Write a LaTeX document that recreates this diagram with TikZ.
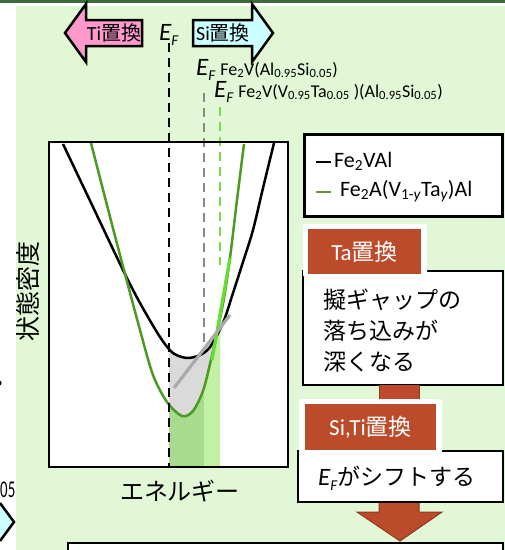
\documentclass[tikz,border=0pt]{standalone}
\usepackage{fontspec}
\setmainfont{Carlito}
\newfontfamily\jp{Noto Sans CJK JP}
\definecolor{bggreen}{HTML}{E1F7D5}
\definecolor{topbar}{HTML}{3E6A3E}
\definecolor{pinkf}{HTML}{FF99CC}
\definecolor{cyanf}{HTML}{CCFFFF}
\definecolor{brick}{HTML}{BB4B2B}
\definecolor{brickdk}{HTML}{8C3A20}
\definecolor{curvegreen}{HTML}{4C9A24}
\definecolor{legendgreen}{HTML}{6B8F4B}
\definecolor{brightgreen}{HTML}{66DD33}
\definecolor{dashgreen}{HTML}{77DD44}
\definecolor{fillgreenA}{HTML}{A9DB8E}
\definecolor{fillgreenB}{HTML}{C2F0A6}
\definecolor{fillgray}{HTML}{DADADA}
\definecolor{dashgray}{HTML}{8A8A8A}
\definecolor{tangray}{HTML}{AAAAAA}
\newcommand\fs[1]{\fontsize{#1}{#1}\selectfont}
\newcommand\myEF[2]{{\fs{#1}\itshape E}{\fs{#2}\raisebox{-0.35em}{\itshape F}}}
\newcommand\ssub[1]{\textsubscript{#1}}
\def\blackcurve{plot[smooth] coordinates {(63,144) (93,207) (123,270) (140,303) (160,337) (173,353) (187,358) (200,355) (210,347) (223,323) (233,293) (243,262) (253,230) (263,188) (274,143)}}
\def\greencurve{plot[smooth] coordinates {(91,143) (115,236) (140,330) (153,375) (167,402) (182,416) (193,411) (203,391) (210,364) (217,333) (224,298) (230,258) (237,200) (244,144)}}
\begin{document}
\begin{tikzpicture}[x=1pt,y=-1pt,
  panel/.style={draw=black,line width=2.5pt,fill=white},
  tagbg/.style={fill=white,rounded corners=2pt},
  tagbox/.style={fill=brick,text=white,inner sep=0pt},
  blockarrow/.style={draw=black,line width=2.5pt,line join=miter},
  curve/.style={line width=2.5pt},
  dashline/.style={line width=2.6pt,dash pattern=on 9pt off 6pt}]
\useasboundingbox (0,0) rectangle (505,550);
\clip (0,0) rectangle (505,550);
\fill[white] (0,0) rectangle (505,550);
\fill[bggreen] (16,6) rectangle (505,550);
\fill[topbar] (0,0) rectangle (505,3);

% fragments at the left edge
\fill[black] (-1,383) circle (2.6);
\node[anchor=base east,inner sep=0pt,font=\fs{24}] (frag) at (15.5,497) {\scalebox{0.62}[1]{05}};
\fill[cyanf] (-5,503) -- (0,503) -- (14,522) -- (0,541) -- (-5,541) -- cycle;
\draw[line width=2.5pt] (0,503) -- (14,522) -- (0,541);

% top arrows
\draw[blockarrow,fill=pinkf] (65,33) -- (86,4) -- (86,20) -- (142,20) -- (142,46) -- (86,46) -- (86,62) -- cycle;
\node[font=\fs{20}] (ti) at (114,33) {Ti{\jp 置換}};
\draw[blockarrow,fill=cyanf] (193,20) -- (252,20) -- (252,4) -- (273,33) -- (252,62) -- (252,46) -- (193,46) -- cycle;
\node[font=\fs{20}] (si) at (223,33) {Si{\jp 置換}};
\node[anchor=base west,inner sep=0pt] (ef0) at (159,40) {\myEF{25}{15}};

% E_F labels
\node[anchor=base west,inner sep=0pt] (ef1) at (196,75)
  {\myEF{25}{15}\hspace{5pt}{\fs{18}Fe\ssub{2}V(Al\ssub{0.95}Si\ssub{0.05})}};
\node[anchor=base west,inner sep=0pt] (ef2) at (214,97)
  {\myEF{25}{15}\hspace{5pt}{\fs{18}Fe\ssub{2}V(V\ssub{0.95}Ta\ssub{0.05} )(Al\ssub{0.95}Si\ssub{0.05})}};

% plot
\fill[white] (49,142) rectangle (288,467);
\begin{scope}
  \clip (169,142) rectangle (220,466);
  \fill[fillgray] \blackcurve -- (274,466) -- (63,466) -- cycle;
\end{scope}
\begin{scope}
  \clip (169,142) rectangle (204,466);
  \fill[fillgreenA] \greencurve -- (244,466) -- (91,466) -- cycle;
\end{scope}
\begin{scope}
  \clip (204,142) rectangle (220,466);
  \fill[fillgreenB] \greencurve -- (244,466) -- (91,466) -- cycle;
\end{scope}
\draw[curve,black] \blackcurve;
\draw[curve,curvegreen] \greencurve;
\draw[dashline,black] (169,43) -- (169,467);
\draw[dashline,dashgray] (204,93) -- (204,345);
\draw[dashline,dashgreen,line width=2.8pt] (220,107) -- (220,265);
\draw[line width=3.2pt,brightgreen] (230,258) -- (212,360);
\draw[line width=3.2pt,tangray] (230,315) -- (174,388);
\draw[line width=2.4pt] (49,142) rectangle (288,467);
\node[font=\jp\fs{25},rotate=90] (ylab) at (28,291) {状態密度};
\node[font=\jp\fs{24}] (xlab) at (180,491) {エネルギー};

% legend
\node[panel,minimum width=198pt,minimum height=82pt,anchor=north west] (legend) at (303,133) {};
\draw[line width=2.2pt,black] (316,162) -- (331,162);
\node[anchor=west,inner sep=0pt,font=\fs{22}] (lg1) at (334,161) {Fe\ssub{2}VAl};
\draw[line width=2.2pt,legendgreen] (316,192) -- (331,192);
\node[anchor=west,inner sep=0pt,font=\fs{22}] (lg2) at (340,191) {Fe\ssub{2}A(V\ssub{1-\itshape y}Ta\ssub{\itshape y})Al};

% box 1 and Ta tag
\draw[panel] (303,271) rectangle (503,385);
\fill[brick] (379,385) rectangle (419,402);
\draw[brickdk,line width=1pt] (379,385) -- (379,402) (419,385) -- (419,402);
\fill[tagbg] (303,224) rectangle (427,277);
\node[tagbox,minimum width=113pt,minimum height=45pt,font=\fs{23}] (ta) at (364.5,251.5) {Ta{\jp 置換}};
\node[anchor=west,inner sep=0pt,font=\jp\fs{23}] (t1) at (323,300) {擬ギャップの};
\node[anchor=west,inner sep=0pt,font=\jp\fs{23}] (t2) at (323,331) {落ち込みが};
\node[anchor=west,inner sep=0pt,font=\jp\fs{23}] (t3) at (323,362) {深くなる};

% big arrow down
\draw[brickdk,line width=1pt,fill=brick] (379,500) -- (419,500) -- (419,512) -- (442,512) -- (400,541) -- (357,512) -- (379,512) -- cycle;

% box 2 and Si,Ti tag
\draw[panel] (298,451) rectangle (503,502);
\fill[tagbg] (299,399) rectangle (442,453);
\node[tagbox,minimum width=131pt,minimum height=46pt,font=\fs{23}] (siti) at (370.5,427) {Si,Ti{\jp 置換}};
\node[anchor=west,inner sep=0pt] (t4) at (318,478) {\myEF{25}{15}{\jp\fs{23}がシフトする}};

% bottom box
\draw[panel] (68,543) rectangle (503,570);
\end{tikzpicture}
\end{document}
